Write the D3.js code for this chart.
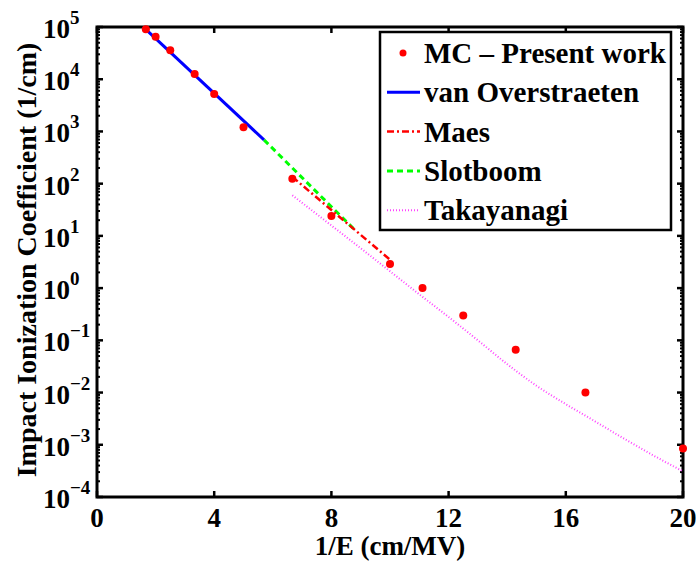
<!DOCTYPE html>
<html lang="en">
<head>
	<meta charset="utf-8">
	<script src="https://d3js.org/d3.v7.min.js"></script>
	<style type="text/css">
		body {
			margin: 0;
			background: #fff;
		}
		text {
			font-family: "Liberation Serif", "Times New Roman", serif;
			font-weight: bold;
			fill: #000;
		}
	</style>
	<title>Impact Ionization Coefficient</title>
</head>
<body>
	<svg id="chart" width="696" height="561"></svg>

	<script type="text/javascript">

		// MC points (1/E in cm/MV, alpha in 1/cm)
		var mcX = [1.667, 2, 2.5, 3.333, 4, 5, 6.667, 8, 10, 11.11, 12.5, 14.29, 16.67, 20];
		var mcY = [9.1e4, 6.5e4, 3.6e4, 1.26e4, 5.2e3, 1.2e3, 124, 24, 2.9, 1.0, 0.3, 0.066, 0.01, 8.5e-4];

		var vanOverX = [1.667, 5.7];
		var vanOverY = [9.0e4, 690];

		var maesX = [6.667, 10];
		var maesY = [135, 3.5];

		var slotX = [5.7, 8.8];
		var slotY = [690, 13];

		var takaX = [6.667, 8, 9, 10, 11, 12, 13, 14, 15, 16, 17, 18, 19, 20];
		var takaY = [60, 15.8, 5.8, 2.1, 0.76, 0.28, 0.1, 0.035, 0.0135, 0.006, 0.0028, 0.0013, 6.2e-4, 3.1e-4];

		var xTicks = [0, 4, 8, 12, 16, 20];
		var yExponents = [5, 4, 3, 2, 1, 0, -1, -2, -3, -4];

		var legendLabels = ["MC \u2013 Present work", "van Overstraeten", "Maes", "Slotboom", "Takayanagi"];

		var svg = d3.select("#chart"),
		margin = {top: 27, right: 13, bottom: 64, left: 97},
		width = +svg.attr("width") - margin.left - margin.right,
		height = +svg.attr("height") - margin.top - margin.bottom,
		g = svg.append("g").attr("transform", "translate(" + margin.left + "," + margin.top + ")");

		var x = d3.scaleLinear().domain([0, 20]).range([0, width]);
		var y = d3.scaleLog().domain([1e-4, 1e5]).range([height, 0]);

		function pairs(xs, ys) {
			return xs.map(function(v, i) { return {x: v, y: ys[i]}; });
		}

		var line = d3.line()
		.x(function(d) { return x(d.x); })
		.y(function(d) { return y(d.y); });

		var curveLine = d3.line()
		.curve(d3.curveMonotoneX)
		.x(function(d) { return x(d.x); })
		.y(function(d) { return y(d.y); });

		// minor log ticks
		var minor = [];
		for (var e = -4; e < 5; e++) {
			for (var k = 2; k < 10; k++) minor.push(k * Math.pow(10, e));
		}

		var ticks = g.append("g").attr("class", "ticks")
		.attr("stroke", "#000");

		ticks.selectAll(".minorL").data(minor).enter().append("line")
		.attr("x1", 0).attr("x2", 3)
		.attr("y1", function(d) { return y(d); }).attr("y2", function(d) { return y(d); })
		.attr("stroke-width", 2);
		ticks.selectAll(".minorR").data(minor).enter().append("line")
		.attr("x1", width).attr("x2", width - 3)
		.attr("y1", function(d) { return y(d); }).attr("y2", function(d) { return y(d); })
		.attr("stroke-width", 2);

		var yMajor = yExponents.map(function(p) { return Math.pow(10, p); });
		ticks.selectAll(".majL").data(yMajor).enter().append("line")
		.attr("x1", 0).attr("x2", 6)
		.attr("y1", function(d) { return y(d); }).attr("y2", function(d) { return y(d); })
		.attr("stroke-width", 2.5);
		ticks.selectAll(".majR").data(yMajor).enter().append("line")
		.attr("x1", width).attr("x2", width - 6)
		.attr("y1", function(d) { return y(d); }).attr("y2", function(d) { return y(d); })
		.attr("stroke-width", 2.5);

		ticks.selectAll(".xB").data(xTicks).enter().append("line")
		.attr("x1", function(d) { return x(d); }).attr("x2", function(d) { return x(d); })
		.attr("y1", height).attr("y2", height - 6)
		.attr("stroke-width", 2.5);
		ticks.selectAll(".xT").data(xTicks).enter().append("line")
		.attr("x1", function(d) { return x(d); }).attr("x2", function(d) { return x(d); })
		.attr("y1", 0).attr("y2", 6)
		.attr("stroke-width", 2.5);

		// box
		g.append("rect")
		.attr("width", width)
		.attr("height", height)
		.attr("fill", "none")
		.attr("stroke", "#000")
		.attr("stroke-width", 3);

		// curves
		g.append("path")
		.datum(pairs(takaX, takaY))
		.attr("d", curveLine)
		.attr("fill", "none")
		.attr("stroke", "#ff44ff")
		.attr("stroke-width", 2)
		.attr("stroke-dasharray", "1,2");

		g.append("path")
		.datum(pairs(slotX, slotY))
		.attr("d", line)
		.attr("fill", "none")
		.attr("stroke", "#00ff00")
		.attr("stroke-width", 3)
		.attr("stroke-dasharray", "6,4");

		g.append("path")
		.datum(pairs(maesX, maesY))
		.attr("d", line)
		.attr("fill", "none")
		.attr("stroke", "#ff0000")
		.attr("stroke-width", 2.5)
		.attr("stroke-dasharray", "7,3,2,3");

		g.append("path")
		.datum(pairs(vanOverX, vanOverY))
		.attr("d", line)
		.attr("fill", "none")
		.attr("stroke", "#0000ff")
		.attr("stroke-width", 3);

		g.selectAll(".mc")
		.data(pairs(mcX, mcY))
		.enter().append("circle")
		.attr("class", "mc")
		.attr("cx", function(d) { return x(d.x); })
		.attr("cy", function(d) { return y(d.y); })
		.attr("r", 4)
		.attr("fill", "#ff0000");

		// tick labels
		g.selectAll(".xlab").data(xTicks).enter().append("text")
		.attr("x", function(d) { return x(d); })
		.attr("y", height + 30)
		.attr("text-anchor", "middle")
		.style("font-size", "27px")
		.text(function(d) { return d; });

		var ylab = g.selectAll(".ylab").data(yExponents).enter().append("text")
		.attr("x", -54)
		.attr("y", function(d) { return y(Math.pow(10, d)) + 11; })
		.style("font-size", "27px");
		ylab.append("tspan").text("10");
		ylab.append("tspan")
		.attr("dy", -14)
		.style("font-size", "19px")
		.text(function(d) { return d < 0 ? "\u2212" + (-d) : d; });

		// axis titles
		svg.append("text")
		.attr("x", margin.left + width / 2)
		.attr("y", 555)
		.attr("text-anchor", "middle")
		.style("font-size", "27px")
		.text("1/E (cm/MV)");

		svg.append("text")
		.attr("transform", "translate(36," + (margin.top + height / 2 - 2) + ") rotate(-90)")
		.attr("text-anchor", "middle")
		.style("font-size", "28px")
		.text("Impact Ionization Coefficient (1/cm)");

		// legend
		var lg = svg.append("g").attr("transform", "translate(380,32)");
		lg.append("rect")
		.attr("width", 291)
		.attr("height", 198)
		.attr("fill", "#fff")
		.attr("stroke", "#000")
		.attr("stroke-width", 2.5);

		var legStyles = [
			{color: "#ff0000", dash: null, w: 0},
			{color: "#0000ff", dash: null, w: 3},
			{color: "#ff0000", dash: "7,3,2,3", w: 2.5},
			{color: "#00ff00", dash: "6,4", w: 3},
			{color: "#ff44ff", dash: "1,2", w: 2}
		];

		var item = lg.selectAll(".item")
		.data(legendLabels)
		.enter().append("g")
		.attr("class", "item")
		.attr("transform", function(d, i) { return "translate(0," + (21 + i * 39.3) + ")"; });

		item.each(function(d, i) {
			var s = legStyles[i], el = d3.select(this);
			if (i === 0) {
				el.append("circle").attr("cx", 23).attr("cy", 0).attr("r", 3.5).attr("fill", s.color);
			} else {
				el.append("line")
				.attr("x1", 7).attr("x2", 40)
				.attr("y1", 0).attr("y2", 0)
				.attr("stroke", s.color)
				.attr("stroke-width", s.w)
				.attr("stroke-dasharray", s.dash);
			}
		});

		item.append("text")
		.attr("x", 44)
		.attr("y", 10)
		.style("font-size", "29px")
		.text(function(d) { return d; });

	</script>
</body>
</html>
